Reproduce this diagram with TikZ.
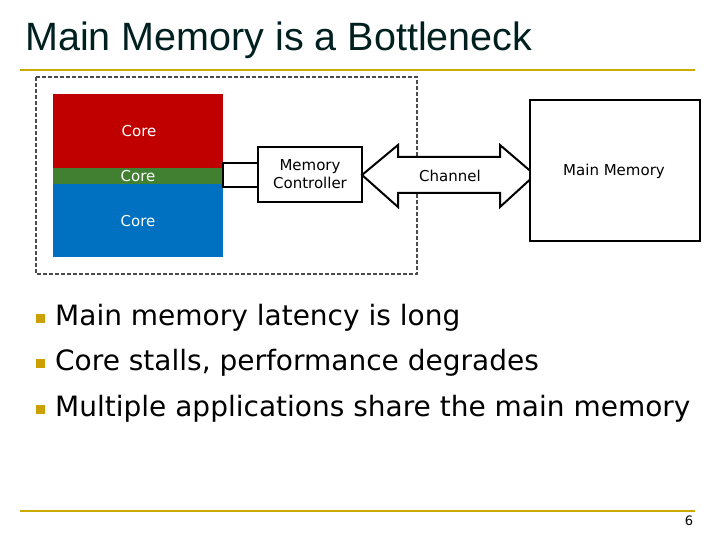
\documentclass[tikz,border=0pt]{standalone}
\usepackage{fontspec}
\setmainfont{DejaVu Sans}
\newfontfamily\arialf{Liberation Sans}
\begin{document}
\begin{tikzpicture}[x=1pt,y=-1pt,
  lbl/.style={font=\fontsize{15}{17}\selectfont, align=center, inner sep=0},
  blk/.style={draw=black, line width=2pt, fill=white},
  bul/.style={anchor=west, font=\fontsize{28}{32}\selectfont, inner sep=0}]
\definecolor{gold}{RGB}{204,170,0}
\definecolor{cred}{RGB}{192,0,0}
\definecolor{cgreen}{RGB}{64,128,48}
\definecolor{cblue}{RGB}{0,112,192}
\definecolor{bulc}{RGB}{204,160,0}
\useasboundingbox (0,0) rectangle (720,540);
\node[anchor=west, inner sep=0, font=\arialf\fontsize{39.5}{44}\selectfont, text=black!75!teal] (title) at (25,40) {Main Memory is a Bottleneck};
\draw[gold, line width=2.5pt] (20,70) -- (695,70);
\draw[gold, line width=2.5pt] (20,511) -- (695,511);
\draw[black!70, line width=2pt, dashed, dash pattern=on 4pt off 2pt] (36,77) rectangle (417,274);
\fill[cred] (53,94) rectangle (223,168);
\fill[cgreen] (53,168) rectangle (223,184);
\fill[cblue] (53,184) rectangle (223,257);
\node[lbl, text=white] (c1) at (139,131) {Core};
\node[lbl, text=white] (c2) at (138,176) {Core};
\node[lbl, text=white] (c3) at (138,221) {Core};
\draw[blk] (223,163) rectangle (258,187);
\node[blk, minimum width=104pt, minimum height=55pt, inner sep=0, align=center, font=\fontsize{15}{18}\selectfont] (mc) at (310,174.5) {Memory\\Controller};
\draw[blk, line join=miter] (362,175) -- (398,145) -- (398,157) -- (500,157) -- (500,145) -- (535,175) -- (500,207) -- (500,193) -- (398,193) -- (398,207) -- cycle;
\node[lbl] (ch) at (450,176) {Channel};
\node[blk, minimum width=170pt, minimum height=141pt, inner sep=0] (mm) at (615,170.5) {};
\node[lbl] (mml) at (614,171) {Main Memory};
\foreach \y/\t [count=\i] in {318/Main memory latency is long, 363/{Core stalls, performance degrades}, 409/Multiple applications share the main memory}{
  \fill[bulc] (36,\y-4) rectangle (45,\y+5);
  \node[bul] (b\i) at (55,\y) {\t};
}
\node[font=\fontsize{13}{15}\selectfont, inner sep=0] (pg) at (689,521) {6};
\end{tikzpicture}
\end{document}
